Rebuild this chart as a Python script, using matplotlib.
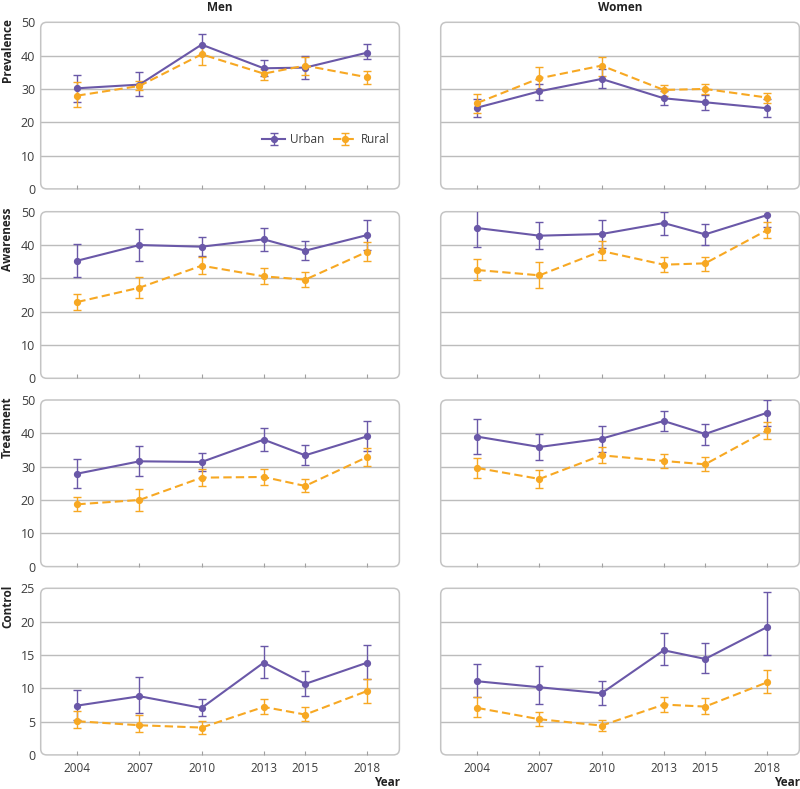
import matplotlib
matplotlib.use("Agg")
import matplotlib.pyplot as plt
from matplotlib.patches import FancyBboxPatch
import numpy as np

plt.rcParams['font.family'] = ['Open Sans', 'DejaVu Sans']

years = [2004, 2007, 2010, 2013, 2015, 2018]
year_labels = ["2004", "2007", "2010", "2013", "2015", "2018"]
sexes = ["Men", "Women"]
measures = ["Prevalence", "Awareness", "Treatment", "Control"]
areas = ["Urban", "Rural"]

# ---- Prevalence ----
men_prev_urban = [30.2, 31.3, 43.3, 36.2, 36.4, 40.9]
men_prev_urban_lo = [26.2, 27.8, 40.2, 33.8, 33.1, 38.9]
men_prev_urban_hi = [34.3, 35.0, 46.6, 38.6, 39.8, 43.4]
men_prev_rural = [28.0, 30.9, 40.4, 34.6, 37.0, 33.5]
men_prev_rural_lo = [24.5, 29.7, 37.3, 32.7, 34.3, 31.6]
men_prev_rural_hi = [32.0, 32.5, 43.0, 36.0, 39.7, 35.5]
women_prev_urban = [24.4, 29.3, 33.0, 27.2, 26.0, 24.2]
women_prev_urban_lo = [21.5, 26.7, 30.3, 25.2, 23.7, 21.5]
women_prev_urban_hi = [27.1, 31.6, 35.9, 29.5, 28.3, 26.9]
women_prev_rural = [25.8, 33.2, 37.0, 29.7, 30.0, 27.4]
women_prev_rural_lo = [22.9, 29.9, 33.9, 28.0, 28.5, 25.7]
women_prev_rural_hi = [28.5, 36.6, 39.7, 31.3, 31.6, 28.9]

# ---- Awareness ----
men_aware_urban = [35.3, 40.0, 39.5, 41.7, 38.3, 43.0]
men_aware_urban_lo = [30.3, 35.3, 36.6, 38.2, 35.4, 38.5]
men_aware_urban_hi = [40.2, 44.7, 42.4, 45.2, 41.2, 47.4]
men_aware_rural = [22.9, 27.2, 33.8, 30.6, 29.6, 38.0]
men_aware_rural_lo = [20.4, 24.1, 31.2, 28.4, 27.4, 35.2]
men_aware_rural_hi = [25.3, 30.3, 36.5, 33.0, 31.9, 40.8]
women_aware_urban = [45.1, 42.8, 43.3, 46.6, 43.2, 49.0]
women_aware_urban_lo = [39.5, 38.7, 39.2, 43.1, 39.9, 45.3]
women_aware_urban_hi = [50.6, 46.9, 47.4, 49.9, 46.4, 52.7]
women_aware_rural = [32.5, 30.9, 38.2, 34.1, 34.5, 44.5]
women_aware_rural_lo = [29.5, 27.2, 35.6, 31.8, 32.3, 42.1]
women_aware_rural_hi = [35.7, 34.9, 41.1, 36.3, 36.4, 46.8]

# ---- Treatment ----
men_treat_urban = [27.9, 31.6, 31.4, 38.1, 33.4, 39.1]
men_treat_urban_lo = [23.5, 27.2, 28.7, 34.7, 30.5, 34.7]
men_treat_urban_hi = [32.2, 36.1, 34.2, 41.5, 36.4, 43.6]
men_treat_rural = [18.7, 20.0, 26.7, 26.9, 24.2, 32.9]
men_treat_rural_lo = [16.6, 16.7, 24.3, 24.5, 22.3, 30.1]
men_treat_rural_hi = [20.9, 23.3, 29.3, 29.2, 26.3, 35.6]
women_treat_urban = [39.0, 35.9, 38.4, 43.7, 39.8, 46.2]
women_treat_urban_lo = [33.8, 31.9, 34.5, 40.6, 36.5, 42.3]
women_treat_urban_hi = [44.3, 39.8, 42.3, 46.8, 42.9, 49.9]
women_treat_rural = [29.6, 26.3, 33.4, 31.7, 30.7, 40.9]
women_treat_rural_lo = [26.5, 23.7, 31.0, 29.5, 28.6, 38.4]
women_treat_rural_hi = [32.6, 29.1, 35.8, 33.8, 32.8, 43.3]

# ---- Control ----
men_ctrl_urban = [7.4, 8.8, 7.05, 13.85, 10.65, 13.85]
men_ctrl_urban_lo = [5.2, 6.3, 5.9, 11.6, 8.9, 11.45]
men_ctrl_urban_hi = [9.7, 11.75, 8.35, 16.4, 12.65, 16.45]
men_ctrl_rural = [5.05, 4.45, 4.1, 7.2, 6.05, 9.6]
men_ctrl_rural_lo = [4.05, 3.4, 3.15, 6.15, 5.15, 7.85]
men_ctrl_rural_hi = [6.55, 6.05, 5.15, 8.35, 7.2, 11.4]
women_ctrl_urban = [11.05, 10.15, 9.25, 15.7, 14.4, 19.2]
women_ctrl_urban_lo = [8.75, 7.65, 7.5, 13.55, 12.3, 15.0]
women_ctrl_urban_hi = [13.7, 13.4, 11.15, 18.25, 16.85, 24.4]
women_ctrl_rural = [7.05, 5.35, 4.4, 7.55, 7.25, 10.9]
women_ctrl_rural_lo = [5.65, 4.35, 3.6, 6.5, 6.2, 9.35]
women_ctrl_rural_hi = [8.75, 6.4, 5.2, 8.65, 8.55, 12.75]

# lookup table built from the arrays above
table = {
    ("Men", "Prevalence", "Urban"): (men_prev_urban, men_prev_urban_lo, men_prev_urban_hi),
    ("Men", "Prevalence", "Rural"): (men_prev_rural, men_prev_rural_lo, men_prev_rural_hi),
    ("Women", "Prevalence", "Urban"): (women_prev_urban, women_prev_urban_lo, women_prev_urban_hi),
    ("Women", "Prevalence", "Rural"): (women_prev_rural, women_prev_rural_lo, women_prev_rural_hi),
    ("Men", "Awareness", "Urban"): (men_aware_urban, men_aware_urban_lo, men_aware_urban_hi),
    ("Men", "Awareness", "Rural"): (men_aware_rural, men_aware_rural_lo, men_aware_rural_hi),
    ("Women", "Awareness", "Urban"): (women_aware_urban, women_aware_urban_lo, women_aware_urban_hi),
    ("Women", "Awareness", "Rural"): (women_aware_rural, women_aware_rural_lo, women_aware_rural_hi),
    ("Men", "Treatment", "Urban"): (men_treat_urban, men_treat_urban_lo, men_treat_urban_hi),
    ("Men", "Treatment", "Rural"): (men_treat_rural, men_treat_rural_lo, men_treat_rural_hi),
    ("Women", "Treatment", "Urban"): (women_treat_urban, women_treat_urban_lo, women_treat_urban_hi),
    ("Women", "Treatment", "Rural"): (women_treat_rural, women_treat_rural_lo, women_treat_rural_hi),
    ("Men", "Control", "Urban"): (men_ctrl_urban, men_ctrl_urban_lo, men_ctrl_urban_hi),
    ("Men", "Control", "Rural"): (men_ctrl_rural, men_ctrl_rural_lo, men_ctrl_rural_hi),
    ("Women", "Control", "Urban"): (women_ctrl_urban, women_ctrl_urban_lo, women_ctrl_urban_hi),
    ("Women", "Control", "Rural"): (women_ctrl_rural, women_ctrl_rural_lo, women_ctrl_rural_hi),
}

y_max = {"Prevalence": 50, "Awareness": 50, "Treatment": 50, "Control": 25}
y_step = {"Prevalence": 10, "Awareness": 10, "Treatment": 10, "Control": 5}

colors = {"Urban": "#6a58a8", "Rural": "#f7a823"}
styles = {"Urban": "-", "Rural": (0, (4, 2))}

W, H = 800, 789
fig = plt.figure(figsize=(W / 100, H / 100), dpi=100)

col_left_px = [40.7, 440.7]
ax_w_px = 358.7
row_top_px = [22.3, 211.7, 400.0, 588.3]
ax_h_px = 166.6

tick_color = "#3c3c3c"
grid_color = "#bcbcbc"
box_color = "#c4c4c4"

for r, meas in enumerate(measures):
    for c, sex in enumerate(sexes):
        left = col_left_px[c] / W
        bottom = 1 - (row_top_px[r] + ax_h_px) / H
        ax = fig.add_axes([left, bottom, ax_w_px / W, ax_h_px / H])
        ax.set_xlim(2002.23, 2019.55)
        ax.set_ylim(0, y_max[meas])
        for s in ax.spines.values():
            s.set_visible(False)
        # rounded box
        radius_px = 6.0
        box = FancyBboxPatch((0, 0), 1, 1,
                             boxstyle="round,pad=0,rounding_size=%f" % (radius_px / ax_w_px),
                             mutation_aspect=ax_w_px / ax_h_px,
                             transform=ax.transAxes, facecolor="none",
                             edgecolor=box_color, linewidth=1.1, zorder=1, clip_on=False)
        ax.add_patch(box)
        yt = np.arange(0, y_max[meas] + 0.1, y_step[meas])
        for v in yt[1:-1]:
            ax.axhline(v, color=grid_color, lw=1.0, zorder=0.5)
        ax.set_yticks(yt)
        ax.tick_params(axis="y", length=0, pad=4, labelsize=9, labelcolor=tick_color)
        if c == 1:
            ax.set_yticklabels([])
        else:
            ax.set_yticklabels([f"{int(v)}" for v in yt])
        ax.set_xticks(years)
        ax.tick_params(axis="x", direction="in", length=3, width=0.8, color="#a0a0a0",
                       pad=5, labelsize=8.5, labelcolor=tick_color)
        if r == len(measures) - 1:
            ax.set_xticklabels(year_labels)
        else:
            ax.set_xticklabels([])

        for a in areas:
            vals, lo, hi = table[(sex, meas, a)]
            vals = np.array(vals)
            yerr = [vals - np.array(lo), np.array(hi) - vals]
            cont = ax.errorbar(years, vals, yerr=yerr, color=colors[a], lw=1.5,
                               marker="o", ms=4.2, capsize=2.6, elinewidth=1.0,
                               capthick=1.0, label=a, zorder=3)
            cont.lines[0].set_linestyle(styles[a])

        if r == 0 and c == 0:
            leg = ax.legend(loc="center right", bbox_to_anchor=(0.995, 0.294),
                            ncol=2, frameon=False, fontsize=8.5, handlelength=1.9,
                            handletextpad=0.4, columnspacing=0.8, borderpad=0.2)
            for t in leg.get_texts():
                t.set_color(tick_color)

        if c == 0:
            fig.text(7.5 / W, 1 - (row_top_px[r] - 4) / H, meas, rotation=90,
                     ha="center", va="top", fontsize=8.5, fontweight="bold",
                     color="#222222")
        if r == 0:
            fig.text((col_left_px[c] + ax_w_px / 2) / W, 1 - 7.5 / H, sex, ha="center",
                     va="center", fontsize=8.5, fontweight="bold", color="#222222")
        if r == len(measures) - 1:
            fig.text((col_left_px[c] + 359.5) / W, 1 - 782.5 / H, "Year", ha="right",
                     va="center", fontsize=8.5, fontweight="bold", color="#222222")

fig.savefig("out.png", dpi=100)
